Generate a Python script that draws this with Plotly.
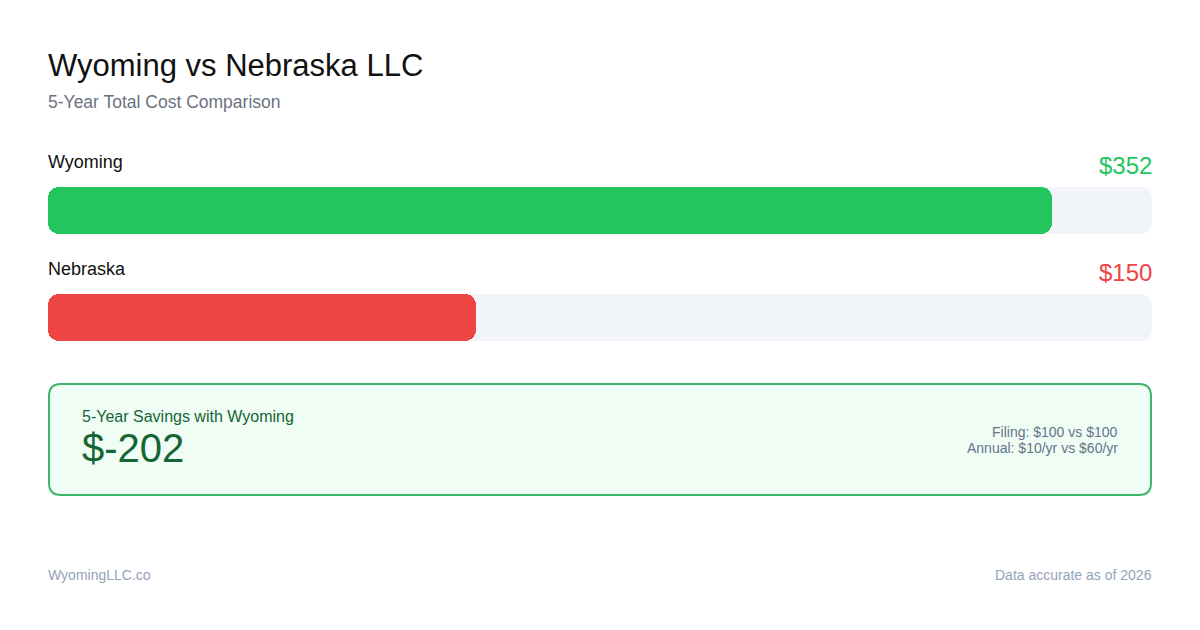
import plotly.graph_objects as go

# ---- data ----
states = ["Wyoming", "Nebraska"]
five_year_cost = [352, 150]
filing_fee = [100, 100]
annual_fee = [10, 60]
bar_colors = ["#22c55e", "#ef4444"]
source = "WyomingLLC.co"
note = "Data accurate as of 2026"

W, H = 1200, 630
L, R = 48, 48
plot_w = W - L - R

def px_x(px):
    return (px - L) / plot_w

def px_y(py):
    return 1 - py / H

scale_max = max(five_year_cost) * 1.1
row_centers = [210.7, 317.7]
bar_h = 47
radius = 11
font = "Liberation Sans, Arial, sans-serif"

fig = go.Figure()

def rounded_bar(values, colors):
    # an explicit base makes plotly round all four corners
    fig.add_trace(go.Bar(
        x=values, base=[0] * len(values), y=row_centers, orientation="h", width=bar_h,
        marker=dict(color=colors, cornerradius=radius, line=dict(width=0)),
        hoverinfo="skip", showlegend=False))

rounded_bar([scale_max] * len(states), ["#f1f5f9"] * len(states))
rounded_bar(five_year_cost, bar_colors)

ann = []
def text(t, x, y, size, color, xanchor="left", yanchor="middle"):
    ann.append(dict(text=t, x=px_x(x), y=px_y(y), xref="paper", yref="paper",
                    xanchor=xanchor, yanchor=yanchor, showarrow=False,
                    xshift=-2 if xanchor == "left" else 2,
                    font=dict(family=font, size=size, color=color)))

text("Wyoming vs Nebraska LLC", L, 66, 31, "#111111")
text("5-Year Total Cost Comparison", L, 102, 17.5, "#6b7280")

for i, s in enumerate(states):
    text(s, L, row_centers[i] - 49, 18, "#111111")
    text(f"${five_year_cost[i]}", W - R, row_centers[i] - 45, 24, bar_colors[i], xanchor="right")

# savings box
x0, x1, y0, y1, r = 49, 1151, 384, 495, 12
def P(x, y):
    return f"{px_x(x):.5f},{px_y(y):.5f}"
path = (f"M {P(x0 + r, y0)} L {P(x1 - r, y0)} Q {P(x1, y0)} {P(x1, y0 + r)} "
        f"L {P(x1, y1 - r)} Q {P(x1, y1)} {P(x1 - r, y1)} "
        f"L {P(x0 + r, y1)} Q {P(x0, y1)} {P(x0, y1 - r)} "
        f"L {P(x0, y0 + r)} Q {P(x0, y0)} {P(x0 + r, y0)} Z")
shapes = [dict(type="path", path=path, xref="paper", yref="paper",
               fillcolor="#f0fdf4", line=dict(color="#3cb66a", width=2), layer="below")]

savings = five_year_cost[1] - five_year_cost[0]
text("5-Year Savings with " + states[0], 82, 416, 16, "#166534")
text(f"${savings}", 82, 448, 40, "#166534")
text(f"Filing: ${filing_fee[0]} vs ${filing_fee[1]}", 1118, 432, 14, "#64748b", xanchor="right")
text(f"Annual: ${annual_fee[0]}/yr vs ${annual_fee[1]}/yr", 1118, 448, 14, "#64748b", xanchor="right")

text(source, L, 575, 14, "#94a3b8")
text(note, W - R, 575, 14, "#94a3b8", xanchor="right")

fig.update_layout(
    width=W, height=H, margin=dict(l=L, r=R, t=0, b=0),
    paper_bgcolor="white", plot_bgcolor="rgba(0,0,0,0)",
    barmode="overlay", bargap=0,
    xaxis=dict(range=[0, scale_max], visible=False, fixedrange=True),
    yaxis=dict(range=[H, 0], visible=False, fixedrange=True),
    annotations=ann, shapes=shapes, showlegend=False,
)
fig.write_html("out.html", config={"displayModeBar": False},
               post_script="document.body.style.margin='0';document.body.style.padding='0';")
